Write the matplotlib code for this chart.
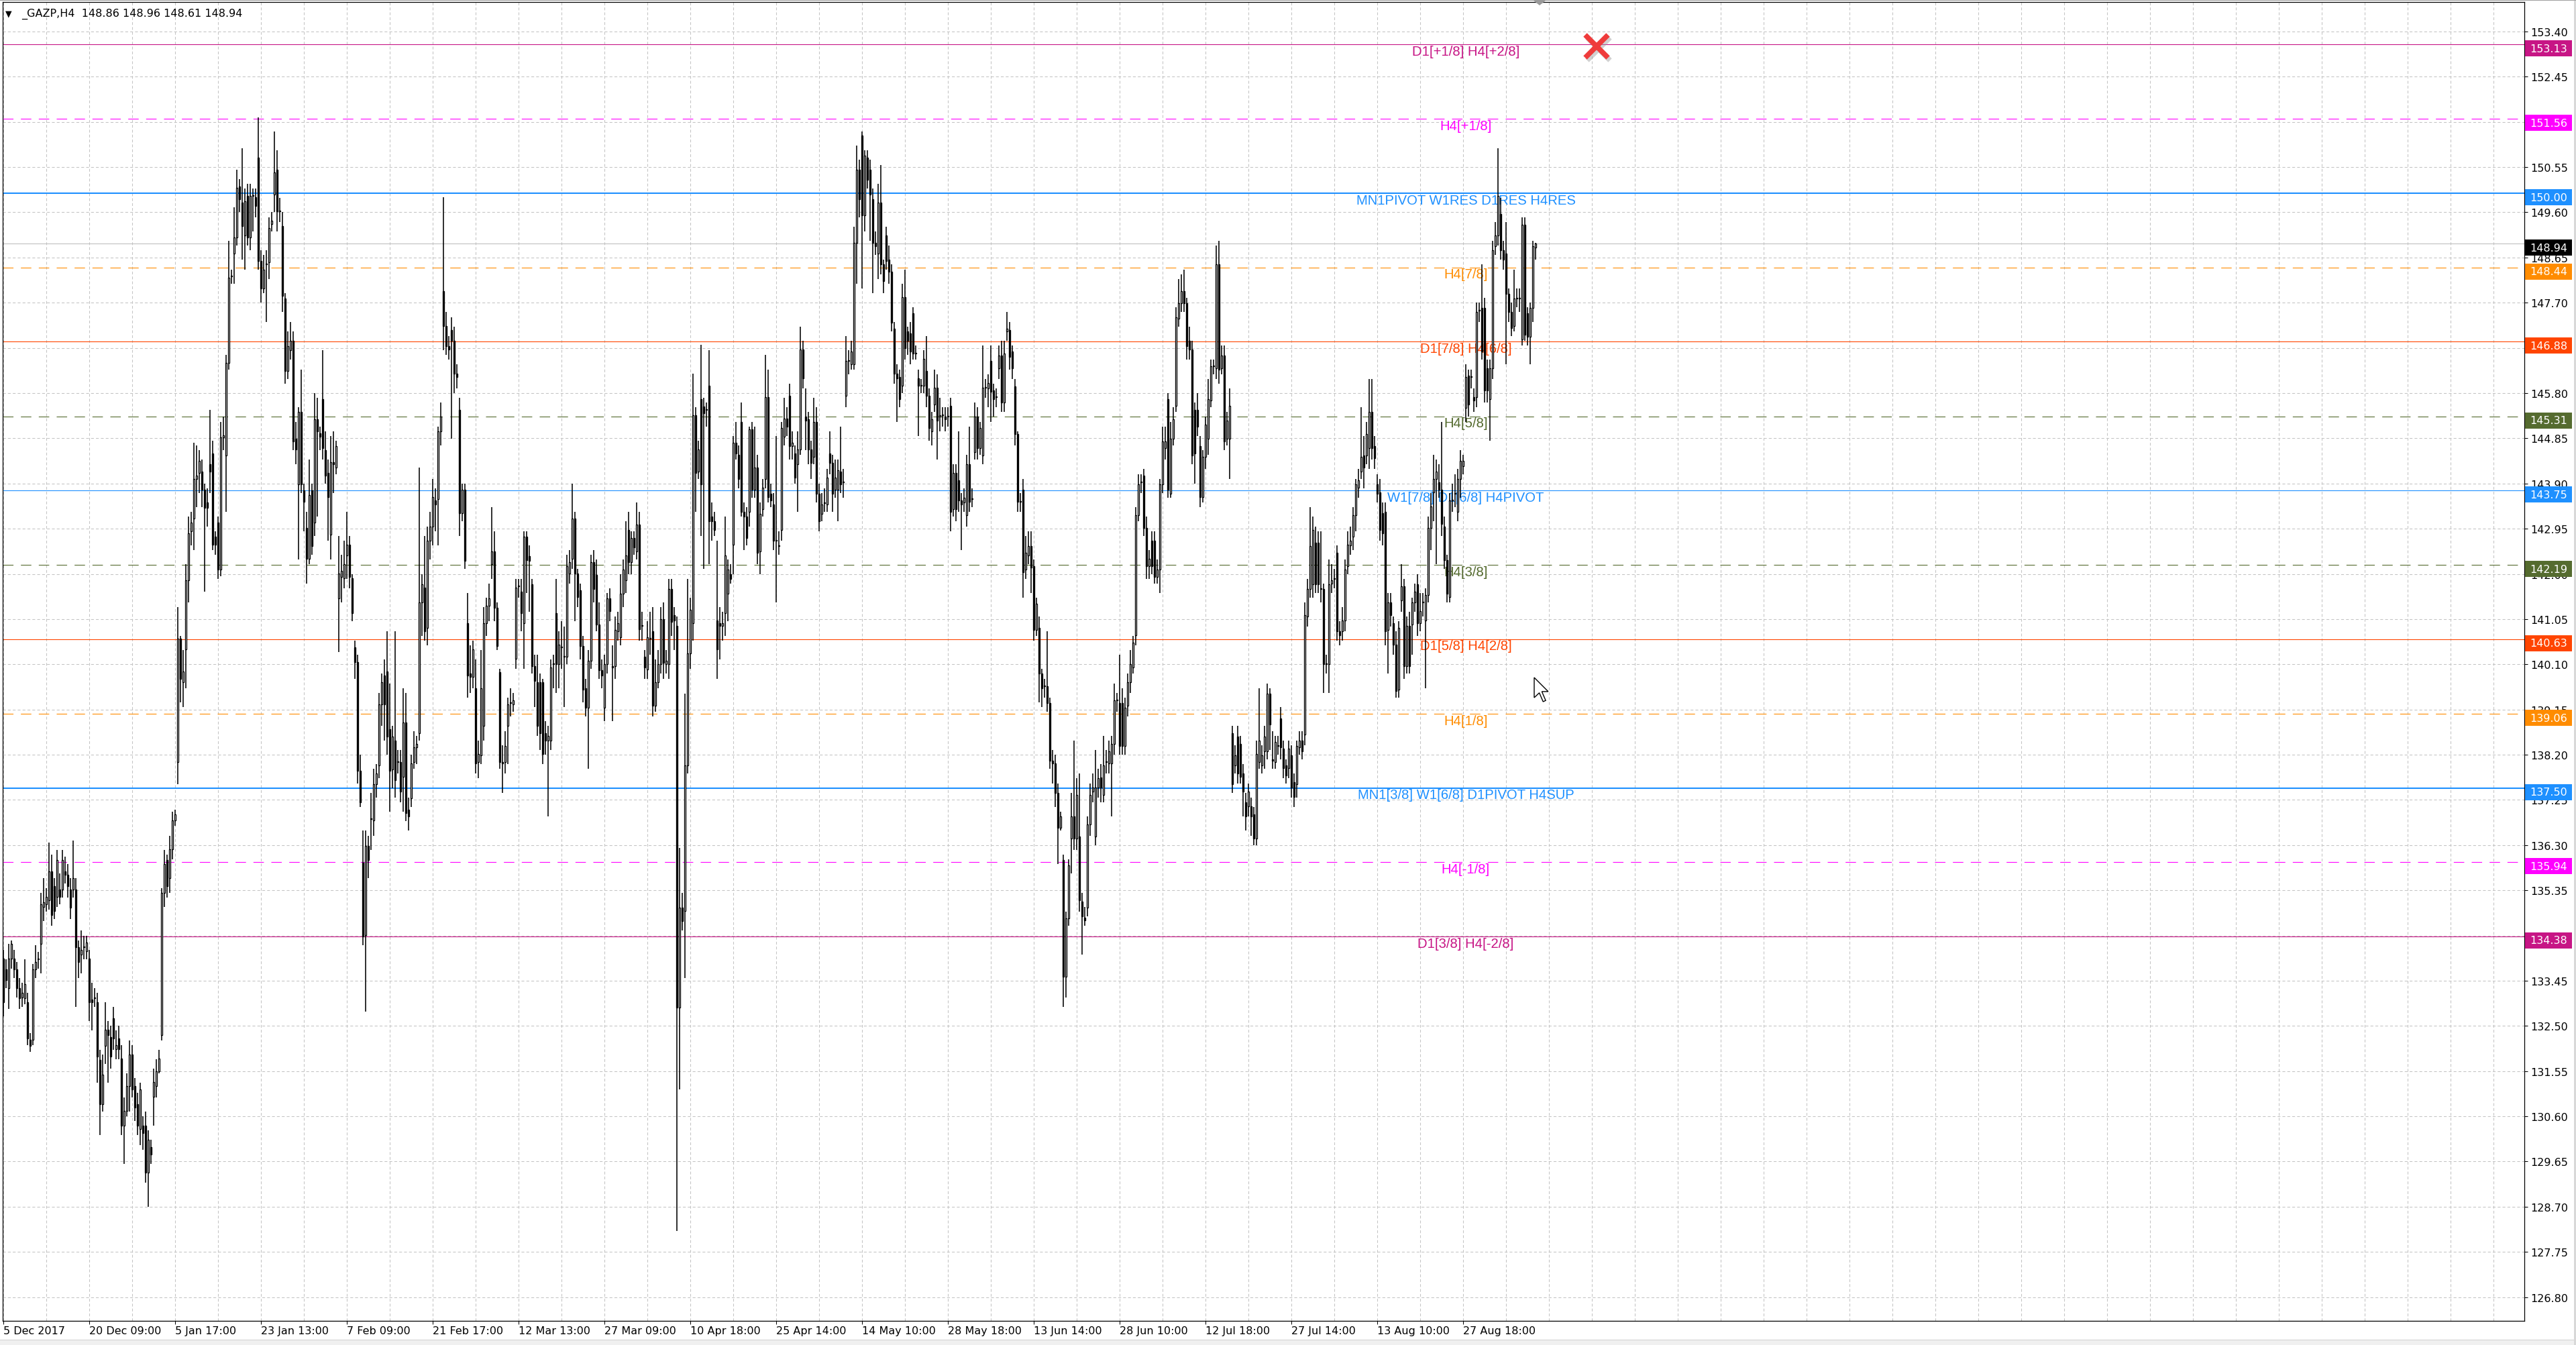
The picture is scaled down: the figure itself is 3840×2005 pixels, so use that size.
import numpy as np
import matplotlib
matplotlib.use("Agg")
import matplotlib.pyplot as plt
import matplotlib.transforms as mtransforms
from matplotlib.patches import Rectangle, Polygon

plt.rcParams['font.family'] = ['DejaVu Sans']

# _GAZP H4 candles (5 Dec 2017 .. start of Sep 2018)
opens = [
    133.92, 133.69, 133.30, 133.92, 133.92, 133.69, 133.30, 133.10, 133.08, 133.00,
    132.21, 132.21, 133.69, 133.90, 134.22, 135.00, 135.06, 135.14, 135.75, 135.44,
    135.21, 135.37, 135.37, 135.75, 135.67, 135.37, 135.37, 135.37, 134.15, 134.00,
    134.15, 134.07, 133.92, 133.05, 133.08, 133.00, 131.78, 130.86, 132.08, 132.42,
    132.27, 132.66, 132.01, 132.24, 131.81, 130.40, 130.71, 131.24, 131.90, 131.24,
    130.86, 130.33, 130.40, 130.40, 129.41, 129.95, 131.01, 131.24, 131.55, 132.31,
    135.29, 135.98, 135.60, 136.21, 136.82, 138.04, 140.64, 139.72, 140.41, 141.86,
    142.90, 143.16, 144.00, 144.12, 144.15, 143.77, 143.50, 144.30, 144.53, 142.78,
    143.08, 142.09, 144.87, 144.49, 146.44, 148.27, 148.73, 149.07, 150.14, 149.80,
    149.12, 149.95, 149.07, 149.95, 149.92, 150.75, 148.58, 148.00, 148.50, 148.55,
    149.35, 149.98, 150.49, 149.62, 149.31, 147.79, 146.26, 146.70, 146.90, 144.84,
    143.88, 145.40, 143.75, 142.96, 142.32, 143.75, 143.08, 145.25, 144.96, 145.68,
    144.60, 144.12, 142.82, 144.35, 144.23, 141.48, 141.94, 141.91, 142.39, 142.62,
    141.91, 140.45, 140.15, 137.86, 135.93, 134.41, 136.28, 136.85, 136.82, 137.58,
    137.97, 139.26, 139.87, 139.95, 138.73, 137.89, 138.50, 138.04, 138.04, 137.74,
    138.88, 137.05, 137.28, 138.04, 138.35, 138.65, 141.40, 141.71, 140.87, 142.70,
    143.00, 143.55, 143.57, 144.99, 147.94, 147.21, 146.78, 147.13, 146.90, 146.21,
    145.45, 143.28, 143.77, 140.97, 139.90, 139.83, 139.60, 138.04, 138.19, 138.80,
    140.97, 141.33, 142.21, 142.47, 141.29, 139.93, 138.04, 138.04, 138.80, 139.29,
    139.26, 140.21, 141.74, 141.63, 140.97, 142.78, 142.38, 141.78, 140.06, 139.72,
    139.72, 139.72, 138.65, 138.50, 138.50, 140.10, 141.17, 140.10, 140.45, 140.26,
    140.26, 142.01, 142.32, 143.16, 142.01, 141.66, 140.48, 139.60, 139.19, 140.18,
    142.24, 141.98, 140.94, 139.98, 139.19, 140.10, 141.48, 140.06, 140.06, 140.80,
    140.67, 141.58, 141.86, 142.93, 142.24, 142.75, 142.47, 143.04, 140.91, 140.26,
    139.99, 140.64, 140.79, 139.23, 139.72, 140.10, 141.05, 140.10, 140.10, 141.68,
    141.13, 140.91, 132.88, 134.99, 134.91, 137.97, 140.33, 140.97, 145.34, 144.15,
    145.68, 145.52, 145.45, 145.95, 143.20, 143.11, 141.02, 140.97, 140.91, 141.17,
    141.58, 142.00, 142.62, 144.76, 144.50, 145.19, 143.31, 143.20, 143.31, 145.04,
    143.77, 144.23, 142.47, 143.36, 144.00, 145.71, 143.69, 143.46, 142.70, 142.59,
    142.93, 144.88, 145.27, 145.75, 144.69, 144.53, 144.30, 144.61, 146.72, 145.30,
    145.25, 144.61, 144.46, 145.19, 143.69, 143.26, 143.49, 143.46, 144.53, 144.33,
    143.77, 143.77, 144.15, 143.92, 145.75, 146.47, 146.41, 146.41, 148.96, 150.49,
    151.22, 149.53, 150.75, 150.49, 149.88, 148.96, 148.73, 149.80, 148.50, 149.11,
    148.61, 148.35, 147.16, 146.21, 146.14, 145.95, 147.82, 147.10, 147.05, 147.48,
    146.63, 146.11, 145.95, 145.95, 146.26, 145.75, 144.99, 145.56, 145.91, 145.30,
    145.33, 145.30, 145.30, 145.53, 143.36, 144.12, 143.97, 143.54, 143.50, 143.23,
    144.30, 143.57, 144.56, 145.30, 144.64, 144.49, 145.91, 145.90, 146.47, 145.86,
    145.71, 146.32, 146.59, 145.60, 147.10, 147.13, 146.67, 145.94, 144.94, 143.51,
    143.77, 142.09, 142.39, 142.59, 142.16, 140.82, 140.87, 139.90, 139.64, 139.64,
    139.29, 138.07, 138.01, 137.40, 136.67, 135.98, 133.53, 134.76, 136.44, 136.90,
    136.44, 136.48, 135.11, 134.78, 134.99, 136.74, 137.43, 136.48, 137.51, 137.72,
    137.35, 138.04, 138.01, 138.01, 138.42, 139.34, 139.29, 139.29, 138.38, 139.23,
    139.72, 140.03, 140.71, 143.23, 143.92, 144.07, 142.96, 142.16, 142.70, 142.70,
    141.94, 142.09, 143.88, 144.64, 145.68, 143.69, 144.84, 145.53, 147.36, 147.69,
    147.94, 147.69, 146.90, 146.72, 145.45, 145.45, 144.69, 143.62, 144.46, 144.84,
    145.65, 146.37, 146.32, 148.50, 146.32, 146.59, 144.84, 144.84, 138.65, 137.97,
    138.58, 138.42, 137.81, 137.20, 137.12, 137.12, 136.94, 136.44, 138.04, 137.97,
    138.27, 138.27, 139.49, 138.10, 138.04, 138.38, 138.96, 138.32, 137.97, 137.92,
    138.19, 137.62, 137.58, 138.35, 138.50, 138.62, 141.10, 141.68, 141.78, 142.65,
    142.65, 141.68, 141.68, 140.10, 140.10, 141.80, 141.89, 142.44, 140.79, 140.79,
    141.02, 142.16, 142.60, 142.78, 143.23, 143.81, 144.15, 144.49, 144.49, 144.64,
    145.40, 144.69, 143.88, 143.72, 143.27, 143.31, 140.82, 141.40, 140.97, 140.51,
    139.57, 141.45, 141.74, 140.06, 140.91, 140.94, 141.40, 141.78, 140.97, 141.40,
    141.02, 141.55, 142.96, 143.72, 144.00, 143.92, 143.77, 143.00, 142.29, 141.52,
    143.54, 143.69, 143.31, 144.00, 144.27, 145.49, 146.17, 146.14, 145.71, 145.71,
    147.54, 147.59, 147.59, 146.32, 145.68, 146.32, 148.89, 149.11, 149.57, 148.81,
    148.73, 147.89, 147.51, 147.21, 147.79, 147.79, 146.93, 149.34, 147.48, 146.98,
    147.59, 148.86,
]

highs = [
    134.10, 133.90, 134.22, 134.30, 134.10, 133.85, 133.50, 133.40, 133.90, 133.20,
    132.35, 133.80, 134.20, 134.05, 135.30, 135.60, 135.40, 136.36, 136.10, 135.60,
    136.20, 135.70, 136.20, 136.05, 135.90, 135.60, 136.40, 135.60, 134.30, 134.50,
    134.40, 134.40, 134.10, 133.40, 133.30, 133.20, 132.00, 131.90, 133.00, 132.60,
    132.50, 132.90, 132.40, 132.50, 132.10, 131.00, 131.50, 132.20, 132.10, 131.40,
    131.10, 131.30, 130.60, 130.70, 130.30, 130.10, 131.60, 131.80, 132.00, 135.40,
    136.20, 136.10, 136.50, 137.00, 137.05, 141.30, 140.70, 140.40, 142.20, 143.20,
    143.30, 144.76, 144.70, 144.60, 144.40, 143.90, 143.80, 145.45, 144.80, 142.90,
    143.20, 145.20, 145.30, 146.60, 149.00, 148.40, 149.70, 150.50, 150.30, 150.95,
    150.10, 150.20, 150.20, 150.10, 150.10, 151.60, 148.80, 148.70, 148.80, 149.50,
    149.60, 151.30, 150.90, 149.90, 149.60, 147.90, 147.10, 147.30, 147.10, 145.20,
    145.50, 146.30, 143.90, 143.30, 144.40, 143.90, 145.80, 145.70, 145.10, 146.70,
    145.00, 144.40, 144.90, 145.00, 144.80, 142.80, 142.40, 142.70, 143.30, 142.80,
    142.00, 140.60, 140.30, 138.20, 136.60, 136.60, 136.50, 137.40, 137.90, 138.00,
    139.50, 139.90, 140.20, 140.80, 139.70, 138.80, 140.80, 138.30, 138.30, 139.60,
    139.50, 137.30, 138.20, 138.70, 138.60, 144.23, 142.00, 142.80, 143.00, 143.30,
    144.00, 143.80, 145.10, 145.60, 149.91, 147.50, 147.00, 147.40, 147.20, 146.40,
    145.70, 143.90, 143.90, 141.60, 140.50, 140.60, 140.20, 138.50, 140.40, 141.30,
    141.50, 141.80, 143.40, 142.90, 141.40, 140.00, 138.40, 138.70, 139.40, 139.60,
    139.50, 141.90, 141.90, 141.90, 142.90, 142.90, 142.60, 141.90, 140.30, 140.30,
    139.90, 139.80, 138.90, 138.80, 140.20, 140.30, 141.90, 140.80, 141.00, 140.90,
    142.40, 142.50, 143.90, 143.30, 142.10, 141.80, 140.70, 139.80, 140.40, 142.40,
    142.50, 142.30, 141.40, 140.20, 140.30, 141.60, 141.70, 140.50, 141.10, 141.20,
    142.00, 142.30, 143.10, 143.30, 142.90, 142.90, 143.50, 143.30, 141.20, 140.40,
    141.00, 141.20, 141.30, 140.20, 140.40, 141.30, 141.40, 140.40, 141.90, 141.90,
    141.30, 141.10, 136.24, 135.30, 139.49, 141.90, 141.50, 146.21, 145.50, 144.80,
    146.82, 145.70, 145.60, 146.70, 143.50, 143.30, 142.70, 141.30, 141.20, 143.20,
    142.30, 142.20, 144.90, 145.20, 144.70, 145.60, 143.50, 143.40, 145.10, 145.20,
    145.10, 144.50, 143.50, 144.00, 146.60, 146.30, 143.90, 143.70, 144.90, 142.90,
    145.20, 145.70, 145.50, 146.00, 145.00, 144.70, 145.00, 147.20, 146.90, 145.90,
    145.40, 144.80, 145.70, 145.50, 143.90, 143.70, 143.80, 144.20, 145.00, 144.50,
    144.40, 144.40, 145.10, 144.20, 147.00, 146.70, 146.90, 149.30, 151.00, 150.70,
    151.30, 150.90, 150.90, 150.70, 150.10, 149.20, 150.20, 150.60, 148.60, 149.30,
    148.90, 148.50, 147.30, 146.40, 146.30, 148.10, 148.40, 147.20, 147.30, 147.60,
    146.80, 146.30, 146.10, 146.70, 147.00, 145.90, 145.40, 146.30, 146.20, 145.70,
    145.50, 145.50, 145.50, 145.70, 144.30, 144.30, 145.00, 143.70, 143.80, 144.50,
    145.10, 143.80, 145.60, 145.50, 145.20, 146.80, 146.10, 146.20, 146.80, 146.00,
    145.90, 146.80, 146.90, 146.90, 147.50, 147.30, 146.80, 146.10, 145.00, 143.70,
    144.00, 142.80, 142.90, 142.90, 142.30, 141.50, 141.10, 140.00, 139.80, 140.80,
    139.40, 138.30, 138.20, 137.60, 137.00, 136.10, 134.90, 136.00, 137.40, 138.50,
    137.70, 137.80, 135.30, 135.00, 136.90, 137.60, 137.80, 138.30, 137.90, 138.00,
    138.60, 138.30, 138.50, 138.60, 139.70, 139.50, 140.30, 139.60, 139.40, 139.90,
    140.40, 140.70, 143.40, 144.10, 144.10, 144.20, 143.20, 142.50, 142.90, 142.90,
    142.30, 144.00, 145.10, 145.10, 145.80, 145.20, 145.50, 147.60, 148.20, 148.30,
    148.40, 147.80, 147.20, 146.90, 145.60, 145.80, 144.90, 144.60, 145.30, 146.10,
    146.50, 146.50, 148.90, 149.00, 146.80, 146.80, 145.40, 145.90, 138.80, 138.40,
    138.80, 138.60, 138.00, 137.40, 137.60, 137.30, 137.10, 138.50, 139.60, 138.40,
    138.80, 139.70, 139.60, 138.70, 138.60, 138.60, 139.20, 138.50, 138.10, 138.50,
    138.40, 137.80, 138.50, 138.70, 138.70, 141.40, 141.90, 143.40, 143.20, 143.00,
    142.90, 142.90, 141.80, 140.30, 142.30, 142.20, 142.10, 142.60, 141.00, 141.30,
    142.30, 142.90, 143.00, 143.40, 144.00, 144.20, 145.50, 144.90, 145.20, 146.10,
    146.10, 144.90, 144.10, 144.00, 143.50, 143.50, 141.60, 141.60, 141.10, 140.80,
    141.00, 142.20, 141.90, 141.10, 141.20, 141.50, 141.80, 142.00, 141.60, 141.60,
    141.70, 143.20, 143.70, 144.50, 144.40, 144.30, 145.20, 143.20, 142.40, 143.70,
    143.90, 144.10, 144.20, 144.60, 144.50, 146.40, 146.30, 146.30, 145.90, 147.70,
    147.70, 148.50, 147.80, 146.50, 146.50, 149.00, 149.40, 150.95, 149.90, 149.00,
    149.40, 148.00, 147.70, 148.40, 148.00, 148.00, 149.50, 149.50, 147.60, 147.70,
    149.00, 148.96,
]

lows = [
    132.70, 133.30, 132.85, 133.70, 133.50, 133.10, 132.85, 132.90, 132.95, 132.10,
    131.95, 132.10, 133.50, 133.70, 133.60, 134.70, 134.90, 134.95, 134.60, 134.75,
    135.00, 135.05, 135.20, 135.50, 135.20, 134.75, 135.20, 132.90, 133.50, 133.60,
    133.90, 133.90, 132.60, 132.40, 132.90, 131.30, 130.20, 130.70, 131.70, 131.30,
    131.60, 132.00, 131.80, 131.80, 130.20, 129.60, 130.60, 130.70, 131.00, 130.50,
    130.20, 130.00, 129.90, 129.20, 128.70, 129.60, 130.40, 131.00, 131.50, 132.20,
    135.00, 135.20, 135.30, 136.00, 136.70, 137.58, 139.30, 139.20, 139.60, 141.40,
    142.60, 142.50, 143.40, 143.70, 143.40, 141.63, 143.00, 143.70, 142.50, 142.40,
    141.90, 141.95, 144.60, 143.30, 146.30, 148.10, 148.10, 148.90, 149.60, 148.60,
    148.40, 148.90, 148.80, 149.20, 149.50, 148.40, 147.70, 147.90, 147.30, 148.20,
    149.20, 149.60, 149.20, 149.40, 147.50, 146.00, 146.10, 146.50, 144.60, 144.30,
    142.30, 143.70, 142.90, 141.80, 142.20, 142.40, 142.80, 143.20, 144.60, 144.40,
    143.90, 142.70, 142.30, 143.70, 144.10, 140.36, 141.40, 141.70, 141.90, 141.70,
    141.00, 139.80, 137.60, 137.10, 134.20, 132.80, 135.60, 136.20, 136.50, 137.30,
    137.70, 138.80, 138.50, 138.20, 137.00, 137.50, 137.30, 137.80, 137.20, 137.00,
    136.80, 136.60, 137.10, 137.90, 138.00, 138.50, 140.70, 140.60, 140.50, 142.30,
    142.60, 142.90, 142.60, 144.70, 146.70, 146.60, 146.50, 144.84, 145.80, 145.90,
    142.80, 143.10, 142.10, 139.40, 139.50, 139.60, 137.80, 137.70, 138.00, 138.50,
    140.70, 141.00, 141.90, 141.00, 140.40, 137.90, 137.40, 137.80, 138.00, 139.00,
    139.10, 140.00, 141.50, 140.80, 140.00, 141.60, 141.20, 139.90, 139.20, 138.60,
    138.30, 138.00, 138.20, 136.90, 138.30, 139.60, 139.50, 139.60, 140.00, 139.20,
    140.10, 141.80, 142.10, 141.00, 141.30, 140.20, 139.30, 139.00, 137.90, 140.00,
    141.40, 140.80, 139.80, 139.60, 138.90, 139.90, 141.00, 138.90, 139.80, 140.60,
    140.50, 141.30, 141.60, 142.00, 142.00, 142.40, 142.30, 140.60, 140.60, 139.80,
    139.80, 140.30, 139.00, 139.10, 139.60, 139.90, 139.80, 139.90, 139.80, 140.70,
    140.40, 128.19, 131.17, 134.50, 133.50, 137.80, 140.00, 140.60, 143.30, 144.00,
    142.80, 142.10, 145.10, 142.20, 142.70, 142.80, 139.80, 140.20, 140.60, 140.70,
    141.00, 141.80, 142.00, 144.40, 143.80, 143.20, 142.50, 142.60, 143.00, 143.60,
    143.60, 142.20, 142.00, 143.20, 143.80, 143.50, 143.40, 142.50, 141.40, 142.40,
    142.70, 144.70, 144.90, 144.40, 144.40, 143.90, 143.30, 144.50, 145.90, 144.60,
    144.30, 144.00, 144.30, 143.50, 142.90, 143.10, 143.30, 143.30, 144.10, 143.30,
    143.60, 143.10, 143.70, 143.60, 145.50, 146.20, 146.30, 146.30, 148.10, 149.50,
    148.00, 149.20, 150.10, 149.00, 147.90, 148.70, 148.20, 148.30, 147.90, 148.40,
    148.10, 147.10, 146.00, 145.20, 145.50, 145.80, 146.50, 146.60, 146.40, 146.50,
    146.50, 144.90, 145.80, 145.80, 145.50, 144.80, 144.70, 145.40, 144.40, 145.00,
    145.10, 145.00, 145.10, 142.90, 143.20, 143.10, 143.30, 142.50, 143.30, 143.00,
    143.30, 143.40, 144.40, 144.40, 144.50, 144.30, 145.70, 145.50, 145.20, 145.30,
    145.50, 146.10, 145.40, 145.40, 146.90, 146.30, 146.10, 144.70, 143.30, 143.30,
    141.50, 141.90, 142.20, 141.60, 140.60, 140.70, 139.30, 139.20, 139.40, 139.10,
    137.90, 137.60, 137.10, 135.90, 136.60, 132.90, 133.10, 134.60, 135.70, 136.20,
    136.20, 134.90, 134.00, 134.60, 134.80, 136.50, 137.20, 136.30, 137.30, 137.20,
    137.20, 137.80, 137.80, 136.90, 138.20, 139.10, 138.20, 138.20, 138.20, 139.00,
    139.50, 139.90, 140.50, 143.10, 143.70, 142.80, 141.90, 141.90, 142.00, 141.80,
    141.80, 141.60, 143.70, 144.40, 143.60, 143.60, 144.70, 145.40, 147.20, 147.50,
    147.50, 146.50, 146.50, 144.30, 143.90, 144.90, 143.40, 143.50, 144.20, 144.50,
    145.50, 146.20, 146.10, 146.00, 146.20, 144.60, 144.70, 144.00, 137.40, 137.80,
    137.60, 137.60, 136.90, 136.60, 136.90, 136.50, 136.30, 136.30, 137.90, 137.80,
    137.90, 138.10, 138.30, 137.90, 137.90, 138.20, 138.10, 137.70, 137.60, 137.70,
    137.30, 137.10, 137.30, 138.20, 138.10, 138.40, 140.90, 141.50, 141.50, 141.60,
    141.60, 141.40, 139.50, 139.90, 139.50, 141.60, 141.70, 140.60, 140.50, 140.60,
    140.80, 142.00, 142.40, 142.50, 142.90, 143.60, 144.00, 143.80, 144.30, 144.20,
    144.40, 144.20, 143.50, 142.70, 142.60, 140.50, 139.90, 140.90, 140.30, 139.40,
    139.40, 141.20, 139.80, 139.90, 139.90, 140.30, 141.20, 140.70, 140.80, 141.10,
    139.60, 141.40, 142.50, 143.10, 142.20, 143.60, 142.80, 142.10, 141.40, 141.40,
    143.30, 143.40, 143.10, 143.60, 144.10, 145.20, 145.30, 145.90, 145.40, 145.50,
    147.30, 146.50, 145.60, 145.60, 144.80, 146.10, 148.70, 148.90, 148.60, 148.40,
    146.40, 147.30, 147.00, 147.10, 147.60, 147.50, 146.80, 146.90, 146.80, 146.40,
    147.30, 148.61,
]

closes = [
    133.00, 133.46, 133.92, 134.22, 133.69, 133.30, 133.08, 133.20, 133.38, 132.24,
    132.08, 133.69, 133.84, 133.92, 135.06, 135.10, 135.21, 135.75, 134.83, 134.91,
    135.98, 135.21, 135.98, 135.67, 135.44, 134.99, 135.60, 134.15, 133.84, 134.10,
    134.15, 134.25, 133.00, 133.00, 133.08, 131.85, 130.86, 131.47, 132.42, 132.31,
    131.85, 132.24, 132.10, 132.01, 130.40, 130.71, 131.24, 131.90, 131.17, 130.79,
    130.40, 131.17, 130.25, 129.41, 130.10, 129.79, 131.32, 131.55, 131.81, 135.29,
    135.90, 135.44, 136.21, 136.82, 136.94, 140.64, 139.80, 139.95, 141.86, 142.85,
    143.08, 144.00, 144.07, 144.38, 143.77, 143.39, 143.39, 144.15, 142.62, 142.62,
    142.09, 144.87, 144.91, 146.44, 148.23, 148.25, 149.07, 150.11, 149.88, 149.31,
    149.83, 149.07, 149.95, 149.95, 149.73, 148.58, 148.00, 148.40, 148.50, 149.27,
    149.42, 150.44, 149.62, 149.62, 147.85, 146.26, 146.78, 146.90, 144.79, 144.61,
    145.40, 143.88, 143.51, 142.32, 143.66, 142.59, 145.25, 144.99, 144.88, 144.64,
    144.07, 143.62, 144.35, 144.30, 144.69, 142.01, 142.07, 142.20, 142.62, 141.94,
    141.17, 140.15, 137.86, 137.20, 134.38, 136.28, 135.98, 136.85, 137.58, 137.81,
    139.26, 139.72, 139.26, 138.58, 137.86, 138.58, 137.66, 138.04, 137.43, 138.88,
    136.97, 136.90, 138.01, 138.35, 138.42, 141.40, 141.78, 140.79, 142.70, 143.00,
    143.62, 143.46, 144.99, 145.30, 147.21, 146.78, 146.72, 146.90, 146.21, 146.14,
    143.28, 143.77, 142.27, 139.87, 139.83, 140.41, 138.01, 138.22, 139.60, 140.97,
    141.33, 141.48, 142.47, 141.29, 140.48, 138.04, 138.01, 138.38, 139.26, 139.29,
    139.34, 141.71, 141.74, 141.17, 142.78, 142.29, 142.27, 140.06, 139.75, 138.80,
    138.65, 138.22, 138.50, 138.60, 140.03, 140.10, 140.10, 140.51, 140.45, 140.26,
    142.16, 142.24, 143.16, 142.01, 141.52, 140.48, 139.57, 139.19, 140.18, 142.24,
    141.68, 140.94, 139.98, 139.87, 140.10, 141.48, 141.22, 140.03, 140.82, 140.97,
    141.58, 142.09, 142.39, 142.24, 142.75, 142.55, 143.04, 140.84, 140.91, 140.03,
    140.67, 140.64, 139.23, 139.72, 140.10, 141.05, 140.13, 140.18, 141.68, 140.99,
    141.02, 132.88, 134.99, 134.71, 137.97, 140.33, 141.25, 145.34, 144.12, 144.61,
    143.88, 145.37, 145.45, 143.11, 143.10, 142.93, 140.41, 140.91, 140.97, 142.39,
    142.09, 141.90, 144.76, 144.53, 144.00, 143.31, 143.20, 142.75, 145.04, 143.77,
    144.23, 142.44, 143.26, 143.81, 145.71, 143.62, 143.54, 142.70, 142.70, 142.59,
    145.07, 145.27, 145.10, 144.69, 144.76, 144.03, 144.61, 146.72, 146.11, 145.22,
    144.61, 144.33, 145.19, 143.69, 143.11, 143.46, 143.49, 144.03, 144.33, 143.69,
    144.03, 144.18, 143.88, 143.92, 146.47, 146.47, 146.67, 148.96, 150.49, 149.88,
    149.53, 150.79, 150.29, 149.98, 148.96, 148.89, 149.80, 148.50, 148.15, 148.58,
    148.35, 147.28, 146.21, 146.11, 145.68, 147.82, 146.75, 146.90, 146.67, 146.63,
    146.63, 145.95, 145.95, 146.52, 145.75, 145.07, 145.25, 145.91, 145.22, 145.33,
    145.33, 145.25, 145.30, 143.31, 144.12, 143.36, 143.54, 143.46, 143.60, 144.30,
    143.51, 143.57, 145.30, 144.64, 145.07, 145.91, 145.91, 146.01, 145.83, 145.68,
    145.71, 146.59, 145.60, 146.63, 147.16, 146.56, 146.32, 144.94, 143.51, 143.51,
    142.04, 142.44, 142.59, 142.13, 140.82, 141.37, 139.90, 139.60, 139.64, 139.29,
    138.07, 138.01, 137.40, 136.67, 136.90, 133.53, 134.76, 135.87, 136.90, 136.44,
    137.35, 135.14, 134.80, 134.72, 136.74, 137.35, 137.51, 137.51, 137.70, 137.51,
    137.97, 138.04, 138.27, 138.42, 139.34, 139.34, 138.38, 138.38, 139.19, 139.72,
    140.10, 140.56, 143.23, 143.88, 143.92, 142.96, 142.16, 142.32, 142.16, 141.94,
    142.09, 143.88, 144.79, 144.79, 143.77, 144.84, 145.25, 147.39, 147.69, 147.94,
    147.69, 146.78, 146.72, 144.49, 144.53, 145.10, 143.62, 144.46, 145.14, 145.68,
    146.37, 146.37, 148.50, 146.29, 146.59, 144.79, 145.22, 145.53, 137.58, 138.19,
    137.81, 137.74, 137.43, 136.90, 137.43, 136.90, 136.44, 138.22, 138.50, 138.19,
    138.58, 139.49, 138.83, 138.07, 138.47, 138.38, 138.35, 137.92, 137.77, 138.32,
    137.51, 137.31, 138.38, 138.50, 138.27, 141.13, 141.68, 142.59, 142.93, 141.78,
    141.78, 141.68, 140.10, 140.10, 141.78, 141.86, 141.89, 140.79, 140.71, 141.02,
    142.09, 142.62, 142.70, 143.23, 143.88, 143.97, 144.46, 144.23, 144.94, 145.40,
    144.64, 144.43, 143.69, 142.93, 142.85, 140.79, 141.40, 141.13, 140.51, 139.54,
    140.87, 141.74, 140.06, 140.91, 140.06, 141.40, 141.63, 140.97, 141.22, 141.40,
    141.55, 142.96, 143.42, 144.00, 144.15, 143.77, 143.05, 142.29, 141.58, 143.54,
    143.54, 143.69, 144.00, 144.38, 144.38, 146.14, 145.56, 146.14, 145.65, 147.51,
    147.54, 146.67, 145.86, 145.86, 146.32, 148.81, 149.11, 149.95, 148.81, 148.61,
    147.89, 147.51, 147.17, 147.79, 147.79, 147.79, 149.34, 147.02, 146.98, 147.59,
    148.89, 148.94,
]

date_labels = ['5 Dec 2017', '20 Dec 09:00', '5 Jan 17:00', '23 Jan 13:00', '7 Feb 09:00',
               '21 Feb 17:00', '12 Mar 13:00', '27 Mar 09:00', '10 Apr 18:00', '25 Apr 14:00',
               '14 May 10:00', '28 May 18:00', '13 Jun 14:00', '28 Jun 10:00', '12 Jul 18:00',
               '27 Jul 14:00', '13 Aug 10:00', '27 Aug 18:00']

# Murrey math / pivot levels drawn by the indicator
level_values = [153.13, 151.56, 150.00, 148.44, 146.88, 145.31, 143.75,
                142.19, 140.63, 139.06, 137.50, 135.94, 134.38]
level_texts = ['D1[+1/8] H4[+2/8]', 'H4[+1/8]', 'MN1PIVOT W1RES D1RES H4RES', 'H4[7/8]',
               'D1[7/8] H4[6/8]', 'H4[5/8]', 'W1[7/8] D1[6/8] H4PIVOT', 'H4[3/8]',
               'D1[5/8] H4[2/8]', 'H4[1/8]', 'MN1[3/8] W1[6/8] D1PIVOT H4SUP', 'H4[-1/8]',
               'D1[3/8] H4[-2/8]']
level_colors = ['#c71585', '#ff00ff', '#1e90ff', '#ff8c00', '#ff4500', '#556b2f', '#1e90ff',
                '#556b2f', '#ff4500', '#ff8c00', '#1e90ff', '#ff00ff', '#c71585']
dash = (0, (14, 10))
level_styles = ['-', dash, '-', dash, '-', dash, '-', dash, '-', dash, '-', dash, '-']
level_widths = [0.8, 0.8, 1.5, 0.8, 0.8, 0.8, 0.8, 0.8, 0.8, 0.8, 1.5, 0.8, 0.8]

price_ticks = np.round(np.arange(126.80, 153.41, 0.95), 2)

# ---------------------------------------------------------------------------
W, H = 3840, 2006
fig = plt.figure(figsize=(W / 100, H / 100), dpi=100, facecolor='white')
ax_l, ax_r, ax_t, ax_b = 4, 3763, 4, 1970
ax = fig.add_axes([ax_l / W, 1 - ax_b / H, (ax_r - ax_l) / W, (ax_b - ax_t) / H])
ax.set_xlim(-0.25, 939.5)
ax.set_ylim(126.30, 154.02)
ax.set_facecolor('white')

n = min(len(opens), len(highs), len(lows), len(closes))
o = np.array(opens[:n]); h = np.array(highs[:n]); l = np.array(lows[:n]); c = np.array(closes[:n])
x = np.arange(n)

# grid
grid_kw = dict(color='#c4c4c4', lw=0.75, ls=(0, (4, 3)), zorder=0)
for p in price_ticks:
    ax.axhline(p, **grid_kw)
for gx in range(0, 940, 16):
    ax.axvline(gx, **grid_kw)

# levels
for v, col, st, lw_ in zip(level_values, level_colors, level_styles, level_widths):
    ax.axhline(v, color=col, ls=st, lw=lw_, zorder=1)
ax.axhline(c[-1], color='#c0c0c0', lw=0.8, zorder=1)

for v, txt, col in zip(level_values, level_texts, level_colors):
    ax.annotate(txt, xy=(545, v), xytext=(0, -0.5), textcoords='offset points',
                ha='center', va='top', color=col, fontsize=14.6,
                family=['Liberation Sans', 'DejaVu Sans'], zorder=2)

# candles
hi = np.maximum(h, np.maximum(o, c))
lo = np.minimum(l, np.minimum(o, c))
ax.vlines(x, lo, hi, color='black', lw=1.15, zorder=3)
up = c >= o
body_h = np.maximum(np.abs(c - o), 0.015)
ax.bar(x, body_h, bottom=np.minimum(o, c), width=0.6,
       color=np.where(up, 'white', 'black'), edgecolor='black', linewidth=0.95, zorder=4)

# axes
ax.yaxis.tick_right()
ax.set_yticks(price_ticks)
ax.set_yticklabels([f'{p:.2f}' for p in price_ticks])
ax.tick_params(axis='y', direction='out', length=3.5, width=0.75, pad=3, labelsize=11.5)
ax.set_xticks([32 * i for i in range(len(date_labels))])
ax.set_xticklabels(date_labels, ha='left')
ax.tick_params(axis='x', direction='out', length=3.5, width=0.75, pad=1.5, labelsize=11.5)
for sp in ax.spines.values():
    sp.set_color('black')
    sp.set_linewidth(0.9)

# price boxes on the right scale
trans = mtransforms.blended_transform_factory(ax.transAxes, ax.transData)
axw = ax_r - ax_l
ppu = (ax_b - ax_t) / (154.02 - 126.30)
box_w, box_h, shift = 70 / axw, 24 / ppu, 6 / ppu
box_vals = level_values + [c[-1]]
box_cols = level_colors + ['black']
for v, col in zip(box_vals, box_cols):
    ax.add_patch(Rectangle((1.0003, v - shift - box_h / 2), box_w, box_h, transform=trans,
                           facecolor=col, edgecolor='none', clip_on=False, zorder=10))
    ax.text(1.0 + 8 / axw, v - shift, f'{v:.2f}', transform=trans, color='white',
            fontsize=11.5, va='center', ha='left', clip_on=False, zorder=11)

# close-chart cross
ax.plot(594.5, 153.04, marker='x', ms=25, mew=5.5, color='#9a9a9a', alpha=0.45,
        clip_on=False, zorder=12)
ax.plot(593.75, 153.09, marker='x', ms=25, mew=5.5, color='#ef3b3b', clip_on=False, zorder=13)

# header
fig.text(8 / W, 1 - 21 / H, '\u25bc', fontsize=9, va='center', ha='left', color='black')
fig.text(32 / W, 1 - 21 / H, '_GAZP,H4  148.86 148.96 148.61 148.94', fontsize=11.5,
         va='center', ha='left', color='black')

# mouse cursor and shift marker
ident = mtransforms.IdentityTransform()
tipx, tipy = 2287, H - 1011
cur = [(0, 0), (0, 30), (7.6, 22.8), (13.3, 36), (17.1, 34.2), (11.4, 20.9), (20.9, 20.9)]
fig.add_artist(Polygon([(tipx + a, tipy - b) for a, b in cur], closed=True, transform=ident,
                       facecolor='white', edgecolor='black', lw=1.0, zorder=20))
fig.add_artist(Polygon([(2285, H - 1), (2305, H - 1), (2295, H - 9)], closed=True,
                       transform=ident, facecolor='#9a9a9a', edgecolor='none', zorder=20))

# window frame
fig.add_artist(Rectangle((0, 0), W, 7, transform=ident, facecolor='#f0f0f0',
                         edgecolor='none', zorder=0))
fig.add_artist(Rectangle((0, 7), W, 1.5, transform=ident, facecolor='#d0d0d0',
                         edgecolor='none', zorder=0))
fig.add_artist(Rectangle((W - 3, 0), 3, H, transform=ident, facecolor='#d8d8d8',
                         edgecolor='none', zorder=0))
fig.add_artist(Rectangle((0, H - 2), W, 2, transform=ident, facecolor='#a0a0a0',
                         edgecolor='none', zorder=0))

fig.savefig('out.png', dpi=100, facecolor='white')
